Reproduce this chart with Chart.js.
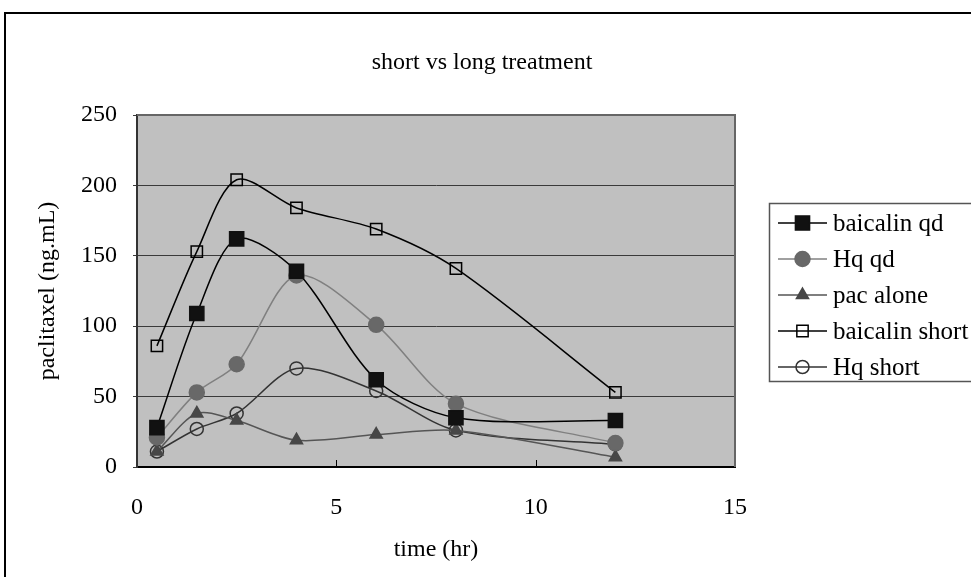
<!DOCTYPE html>
<html>
<head>
<meta charset="utf-8">
<script src="https://cdn.jsdelivr.net/npm/chart.js@4/dist/chart.umd.min.js"></script>
<style>
  html, body { margin: 0; padding: 0; background: #fff; }
  #wrap { width: 971px; height: 577px; }
</style>
</head>
<body>
<div id="wrap"><canvas id="c"></canvas></div>
<script>
// values
const times = [0.5, 1.5, 2.5, 4, 6, 8, 12];
const baicalinQd = [28, 109, 162, 139, 62, 35, 33];
const hqQd = [21, 53, 73, 136, 101, 45, 17];
const pacAlone = [11, 38, 33, 19, 23, 26, 7];
const baicalinShort = [86, 153, 204, 184, 169, 141, 53];
const hqShort = [11, 27, 38, 70, 54, 26, 16];
const seriesNames = ['baicalin qd', 'Hq qd', 'pac alone', 'baicalin short', 'Hq short'];

const FONT = 'Liberation Serif, Times New Roman, serif';
const pts = arr => times.map((t, i) => ({ x: t, y: arr[i] }));

function series(name, values, line, style, radius, fill, border) {
    return {
        label: name,
        data: pts(values),
        borderColor: line,
        borderWidth: 1.5,
        pointStyle: style,
        pointRadius: radius,
        pointHoverRadius: radius,
        pointBackgroundColor: fill,
        pointBorderColor: border,
        pointBorderWidth: 1.5,
        tension: 0.3,
        fill: false
    };
}

const datasets = [
    series(seriesNames[0], baicalinQd, '#000', 'rect', 10, '#111', '#111'),
    series(seriesNames[1], hqQd, '#808080', 'circle', 7.5, '#686868', '#686868'),
    series(seriesNames[2], pacAlone, '#555', 'triangle', 7, '#474747', '#474747'),
    series(seriesNames[3], baicalinShort, '#000', 'rect', 8, 'rgba(0,0,0,0)', '#000'),
    series(seriesNames[4], hqShort, '#333', 'circle', 6.5, 'rgba(0,0,0,0)', '#333')
];

// plot background, frame, title, inner ticks and legend
const decor = {
    id: 'decor',
    beforeDraw(chart) {
        const { ctx, chartArea: a } = chart;
        ctx.save();
        ctx.fillStyle = '#fff';
        ctx.fillRect(0, 0, chart.width, chart.height);
        ctx.fillStyle = '#c0c0c0';
        ctx.fillRect(a.left, a.top, a.right - a.left, a.bottom - a.top);
        ctx.strokeStyle = '#000';
        ctx.lineWidth = 2;
        ctx.strokeRect(5, 13, 1200, 1200);
        ctx.fillStyle = '#000';
        ctx.font = '24px ' + FONT;
        ctx.textAlign = 'center';
        ctx.textBaseline = 'middle';
        ctx.fillText('short vs long treatment', 482, 63);
        ctx.restore();
    },
    beforeDatasetsDraw(chart) {
        const { ctx, chartArea: a, scales } = chart;
        ctx.save();
        ctx.strokeStyle = '#666';
        ctx.lineWidth = 2;
        ctx.beginPath();
        ctx.moveTo(a.left, a.top);
        ctx.lineTo(a.right, a.top);
        ctx.lineTo(a.right, a.bottom);
        ctx.stroke();
        ctx.strokeStyle = '#000';
        ctx.lineWidth = 1;
        [5, 10].forEach(v => {
            const x = Math.round(scales.x.getPixelForValue(v)) + 0.5;
            ctx.beginPath();
            ctx.moveTo(x, a.bottom);
            ctx.lineTo(x, a.bottom - 7);
            ctx.stroke();
        });
        ctx.restore();
    },
    afterDraw(chart) {
        const { ctx } = chart;
        ctx.save();
        ctx.strokeStyle = '#555';
        ctx.lineWidth = 1.5;
        ctx.strokeRect(769.5, 203.5, 400, 178);
        ctx.font = '25px ' + FONT;
        ctx.textAlign = 'left';
        ctx.textBaseline = 'middle';
        chart.data.datasets.forEach((ds, i) => {
            const y = 223 + i * 36;
            ctx.strokeStyle = ds.borderColor;
            ctx.lineWidth = ds.borderWidth;
            ctx.beginPath();
            ctx.moveTo(778, y);
            ctx.lineTo(827, y);
            ctx.stroke();
            ctx.fillStyle = ds.pointBackgroundColor;
            ctx.strokeStyle = ds.pointBorderColor;
            ctx.lineWidth = ds.pointBorderWidth;
            Chart.helpers.drawPoint(ctx, {
                pointStyle: ds.pointStyle,
                radius: ds.pointRadius,
                rotation: 0,
                borderWidth: ds.pointBorderWidth
            }, 802.5, y);
            ctx.fillStyle = '#000';
            ctx.fillText(ds.label, 833, y + 1);
        });
        ctx.restore();
    }
};

new Chart(document.getElementById('c'), {
    type: 'line',
    data: { datasets },
    plugins: [decor],
    options: {
        responsive: true,
        maintainAspectRatio: false,
        animation: false,
        layout: { padding: { top: 115, right: 236, left: 0, bottom: 0 } },
        plugins: { legend: { display: false }, tooltip: { enabled: false } },
        scales: {
            x: {
                type: 'linear',
                min: 0,
                max: 15,
                afterFit: s => { s.height = 110; },
                ticks: { stepSize: 5, padding: 18, color: '#000', font: { family: FONT, size: 24 } },
                grid: { display: false },
                border: { display: true, color: '#000', width: 2 },
                title: { display: true, text: 'time (hr)', color: '#000', font: { family: FONT, size: 24 }, padding: { bottom: 13 } }
            },
            y: {
                min: 0,
                max: 250,
                afterFit: s => { s.width = 137; },
                ticks: { stepSize: 50, padding: 16, color: '#000', font: { family: FONT, size: 24 } },
                grid: { color: '#3a3a3a', lineWidth: 1, tickLength: 4 },
                border: { display: true, color: '#333', width: 2 },
                title: { display: true, text: 'paclitaxel (ng.mL)', color: '#000', font: { family: FONT, size: 24 }, padding: { top: 33 } }
            }
        }
    }
});
</script>
</body>
</html>
